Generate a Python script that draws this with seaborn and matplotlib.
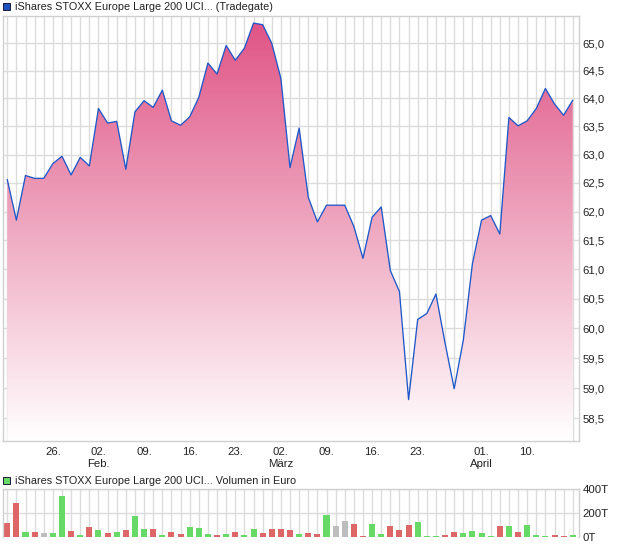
import numpy as np
import pandas as pd
import matplotlib
matplotlib.use("Agg")
import matplotlib.pyplot as plt
import seaborn as sns
from matplotlib.ticker import FixedLocator, FixedFormatter, NullLocator, FuncFormatter
from matplotlib.patches import Rectangle
from matplotlib.colors import to_rgb

# ---------------- data ----------------
days = ["19.01", "20.01", "21.01", "22.01", "23.01", "26.01", "27.01", "28.01", "29.01", "30.01",
        "02.02", "03.02", "04.02", "05.02", "06.02", "09.02", "10.02", "11.02", "12.02", "13.02",
        "16.02", "17.02", "18.02", "19.02", "20.02", "23.02", "24.02", "25.02", "26.02", "27.02",
        "02.03", "03.03", "04.03", "05.03", "06.03", "09.03", "10.03", "11.03", "12.03", "13.03",
        "16.03", "17.03", "18.03", "19.03", "20.03", "23.03", "24.03", "25.03", "26.03", "27.03",
        "30.03", "31.03", "01.04", "02.04", "07.04", "08.04", "09.04", "10.04", "13.04", "14.04",
        "15.04", "16.04", "17.04"]

close = [62.56, 61.85, 62.63, 62.58, 62.58, 62.84, 62.97, 62.64, 62.95, 62.80,
         63.82, 63.56, 63.59, 62.74, 63.76, 63.96, 63.84, 64.15, 63.60, 63.52,
         63.67, 64.02, 64.64, 64.44, 64.96, 64.69, 64.91, 65.37, 65.34, 65.00,
         64.36, 62.77, 63.47, 62.25, 61.82, 62.11, 62.11, 62.11, 61.74, 61.19,
         61.90, 62.08, 60.98, 60.62, 58.81, 60.15, 60.25, 60.58, 59.75, 58.99,
         59.80, 61.10, 61.85, 61.93, 61.61, 63.66, 63.51, 63.60, 63.82, 64.18,
         63.90, 63.70, 63.97]

volume_t = [118, 287, 42, 42, 31, 34, 343, 48, 14, 82,
            56, 31, 39, 56, 174, 65, 65, 14, 39, 22,
            82, 73, 22, 14, 22, 39, 14, 65, 31, 65,
            65, 56, 22, 31, 22, 183, 90, 132, 107, 6,
            107, 22, 90, 56, 98, 124, 6, 6, 14, 39,
            35, 44, 31, 10, 90, 90, 39, 98, 14, 6,
            14, 6, 12]

direction = ["d", "d", "u", "d", "n", "u", "u", "d", "u", "d",
             "u", "d", "u", "d", "u", "u", "d", "u", "d", "d",
             "u", "u", "u", "d", "u", "d", "u", "u", "d", "d",
             "d", "d", "u", "d", "d", "u", "n", "n", "d", "d",
             "u", "u", "d", "d", "d", "u", "u", "u", "d", "d",
             "u", "u", "u", "u", "d", "u", "d", "u", "u", "u",
             "d", "d", "u"]

tick_pos = [5, 10, 15, 20, 25, 30, 35, 40, 45, 52, 57]
tick_labels = ["26.", "02.\nFeb.", "09.", "16.", "23.", "02.\nMärz", "09.", "16.", "23.",
               "01.\nApril", "10."]

price_ticks = [58.5, 59.0, 59.5, 60.0, 60.5, 61.0, 61.5, 62.0, 62.5, 63.0, 63.5, 64.0, 64.5, 65.0]
vol_ticks = [0, 200000, 400000]

title_price = "iShares STOXX Europe Large 200 UCI... (Tradegate)"
title_vol = "iShares STOXX Europe Large 200 UCI... Volumen in Euro"

# ---------------- style ----------------
sns.set_style("white")
plt.rcParams["font.family"] = ["Liberation Sans", "DejaVu Sans"]
plt.rcParams["font.size"] = 8.2
TXT = "#222222"
GRID = "#dcdcdc"
SPINE = "#d0d0d0"
LINE = "#1f58c8"
dir_colors = {"u": "#66d966", "d": "#dd6666", "n": "#bdbdbd"}
BAR_W = 0.66

W, H = 620, 546
fig = plt.figure(figsize=(W / 100, H / 100), dpi=100)

def frac_box(l, t, r, b):
    return [l / W, 1 - b / H, (r - l) / W, (b - t) / H]

ax = fig.add_axes(frac_box(2.7, 16, 578.7, 441))
axv = fig.add_axes(frac_box(2.7, 489.3, 578.7, 536.7))

n = len(close)
x = np.arange(n)
xlim = (-0.5, n - 0.35)
ylim = (58.13, 65.5)

# ---------------- price panel ----------------
ax.set_yscale("log")
ax.set_xlim(*xlim)
ax.set_ylim(*ylim)

fill = ax.fill_between(x, close, ylim[0], color="none", lw=0)
top_c = np.array(to_rgb("#df5283"))
bot_c = np.array([1.0, 1.0, 1.0])
t = np.linspace(0, 1, 256)[:, None]
grad = top_c[None, :] * (1 - t) + bot_c[None, :] * t
grad = grad[:, None, :]
im = ax.imshow(grad, extent=[0, 1, 0, 1], transform=ax.transAxes,
               aspect="auto", zorder=1, interpolation="bilinear")
im.set_clip_path(fill.get_paths()[0], transform=ax.transData)

sns.lineplot(x=x, y=close, ax=ax, color=LINE, lw=0.95, zorder=3)

ax.set_xlim(*xlim)
ax.set_ylim(*ylim)
ax.set_axisbelow(True)

ax.xaxis.set_major_locator(FixedLocator(tick_pos))
ax.xaxis.set_major_formatter(FixedFormatter(tick_labels))
ax.xaxis.set_minor_locator(FixedLocator(list(x)))
ax.yaxis.set_major_locator(FixedLocator(price_ticks))
ax.yaxis.set_minor_locator(NullLocator())
ax.yaxis.set_major_formatter(FuncFormatter(lambda v, p: f"{v:.1f}".replace(".", ",")))
ax.yaxis.tick_right()
ax.grid(True, which="both", axis="x", color=GRID, lw=1.0)
ax.grid(True, which="major", axis="y", color=GRID, lw=1.0)
ax.tick_params(axis="x", which="both", length=2.2, color=SPINE, pad=2.4,
               labelsize=8.2, labelcolor=TXT)
ax.tick_params(axis="y", length=0, pad=2.6, labelsize=8.2, labelcolor=TXT)
ax.set_xlabel("")
ax.set_ylabel("")
for s in ax.spines.values():
    s.set_color(SPINE)
    s.set_linewidth(1.0)
    s.set_visible(True)

# ---------------- volume panel ----------------
vdf = pd.DataFrame({"day": days, "vol": np.array(volume_t) * 1000, "dir": direction})
pal = {d: dir_colors[c] for d, c in zip(days, direction)}
sns.barplot(data=vdf, x="day", y="vol", hue="day", palette=pal, legend=False,
            dodge=False, saturation=1, width=BAR_W, ax=axv, zorder=2)
for p in axv.patches:
    cx = p.get_x() + p.get_width() / 2
    p.set_width(BAR_W)
    p.set_x(cx - BAR_W / 2)
    p.set_linewidth(0)
axv.set_xlim(*xlim)
axv.set_ylim(0, 400000)
axv.set_axisbelow(True)
axv.xaxis.set_major_locator(FixedLocator(list(x)))
axv.xaxis.set_major_formatter(FixedFormatter([""] * n))
axv.yaxis.set_major_locator(FixedLocator(vol_ticks))
axv.yaxis.set_major_formatter(FuncFormatter(lambda v, p: f"{int(round(v / 1000))}T"))
axv.yaxis.tick_right()
axv.grid(True, axis="both", color=GRID, lw=1.0)
axv.tick_params(axis="x", length=0)
axv.tick_params(axis="y", length=0, pad=2.6, labelsize=8.2, labelcolor=TXT)
axv.set_xlabel("")
axv.set_ylabel("")
for s in axv.spines.values():
    s.set_color(SPINE)
    s.set_linewidth(1.0)
    s.set_visible(True)
axv.spines["bottom"].set_visible(False)

# ---------------- legend-like headers ----------------
def header(y_px, color, label):
    fig.patches.append(Rectangle((3.3 / W, 1 - (y_px + 3.6) / H), 7 / W, 7.2 / H,
                                 transform=fig.transFigure, facecolor=color,
                                 edgecolor="#1a1a3a", lw=0.7))
    fig.text(15 / W, 1 - y_px / H, label, fontsize=7.8, color=TXT, va="center", ha="left")

header(6.5, "#1f50c0", title_price)
header(480.7, "#66d966", title_vol)

fig.savefig("out.png", dpi=100)
